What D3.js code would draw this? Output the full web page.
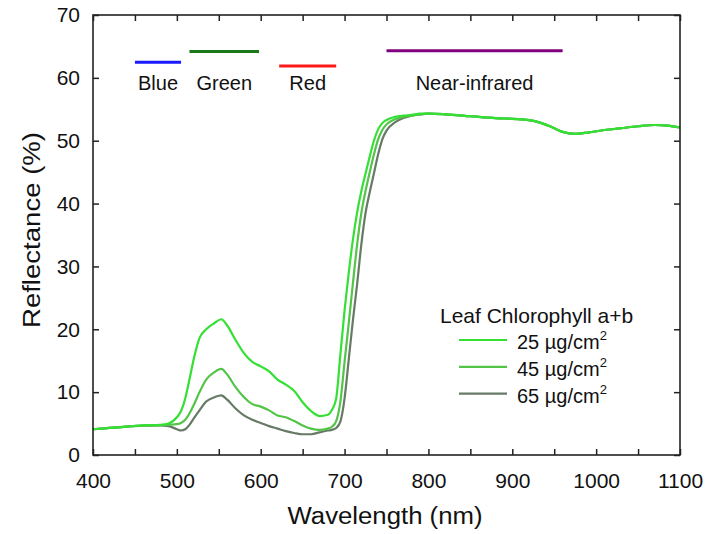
<!DOCTYPE html>
<html>
<head>
<meta charset="utf-8">
<script src="https://cdn.jsdelivr.net/npm/d3@7"></script>
<style>
  body { margin: 0; background: #fff; }
  svg { display: block; font-family: "Liberation Sans", Arial, sans-serif; }
</style>
</head>
<body>
<svg id="chart" width="706" height="534"></svg>
<script>
// Wavelength grid (nm) shared by the three reflectance spectra
const wavelengths = [400, 420, 440, 460, 480, 490, 500, 505, 510, 515, 520, 527, 535, 545, 553, 560,
  570, 580, 590, 600, 610, 620, 630, 640, 650, 660, 670, 680, 685, 690, 695, 700, 705, 710, 715,
  720, 725, 730, 735, 740, 745, 750, 760, 770, 780, 790, 800, 820, 850, 880, 910, 930, 945, 960,
  975, 990, 1010, 1030, 1050, 1070, 1085, 1100];

// Near-infrared plateau (820 nm onward), identical for all chlorophyll levels
const nirPlateau = [54.2, 53.9, 53.6, 53.4, 53.0, 52.3, 51.4, 51.1, 51.3, 51.7, 52.0, 52.3, 52.5, 52.4, 52.1];

// Reflectance (%) 400–800 nm for each leaf chlorophyll content
const refl25 = [4.1, 4.3, 4.5, 4.7, 4.8, 5.0, 6.0, 7.0, 9.0, 12.0, 15.2, 18.6, 20.0, 21.0, 21.6, 20.6,
  18.3, 16.2, 14.8, 14.1, 13.3, 12.0, 11.2, 10.2, 8.4, 7.0, 6.2, 6.4, 7.2, 9.0, 16.0, 23.0, 29.0, 34.3, 38.6,
  42.0, 44.8, 47.5, 50.0, 51.8, 52.8, 53.3, 53.8, 54.0, 54.1, 54.3, 54.3];
const refl45 = [4.1, 4.3, 4.5, 4.7, 4.75, 4.8, 4.9, 5.1, 5.6, 6.6, 7.9, 10.0, 12.0, 13.2, 13.7, 12.8,
  10.8, 9.2, 8.1, 7.7, 7.1, 6.3, 6.0, 5.4, 4.7, 4.2, 4.0, 4.2, 4.5, 5.4, 8.5, 14.8, 21.0, 27.4, 33.5,
  38.5, 42.0, 45.0, 47.8, 50.2, 51.7, 52.6, 53.4, 53.8, 54.0, 54.2, 54.3];
const refl65 = [4.1, 4.3, 4.5, 4.65, 4.7, 4.6, 4.1, 3.9, 4.1, 4.8, 5.8, 7.1, 8.5, 9.2, 9.5, 8.8,
  7.4, 6.3, 5.6, 5.1, 4.6, 4.2, 3.8, 3.5, 3.3, 3.3, 3.6, 3.9, 4.0, 4.3, 5.3, 9.0, 15.2, 21.5, 27.2,
  33.5, 38.5, 41.8, 44.8, 47.8, 50.2, 51.6, 52.9, 53.6, 54.0, 54.2, 54.3];

const seriesNames = ["25", "45", "65"];
const seriesColors = ["#33e033", "#52c447", "#667a66"];

// Spectral bands drawn along the top
const bandNames = ["Blue", "Green", "Red", "Near-infrared"];
const bandStart = [450, 515, 622, 750];
const bandEnd = [505, 598, 690, 960];
const bandLevel = [62.5, 64.2, 61.9, 64.3];
const bandColors = ["#1a1aff", "#1a7a1a", "#ff1a1a", "#800080"];

const xTicks = [400, 500, 600, 700, 800, 900, 1000, 1100];
const xMinorTicks = d3.range(400, 1101, 50);
const yTicks = [0, 10, 20, 30, 40, 50, 60, 70];

const svg = d3.select("#chart");
const plotLeft = 93, plotRight = 680, plotTop = 15, plotBottom = 455;

const x = d3.scaleLinear().domain([400, 1100]).range([plotLeft, plotRight]);
const y = d3.scaleLinear().domain([0, 70]).range([plotBottom, plotTop]);

const seriesValues = [refl25, refl45, refl65].map(v => v.concat(nirPlateau));

const line = d3.line()
  .x(d => x(d[0]))
  .y(d => y(d[1]))
  .curve(d3.curveMonotoneX);

// Spectra (drawn so the low-chlorophyll curve ends up on top)
const g = svg.append("g");
[2, 1, 0].forEach(i => {
  const pts = wavelengths.map((w, k) => [w, seriesValues[i][k]]);
  g.append("path")
    .datum(pts)
    .attr("fill", "none")
    .attr("stroke", seriesColors[i])
    .attr("stroke-width", 2.2)
    .attr("stroke-linejoin", "round")
    .attr("d", line);
});

// Axes with inward ticks on all four sides
const axisColor = "#222";
const xAxis = d3.axisBottom(x).tickValues(xMinorTicks).tickSizeInner(-6).tickSizeOuter(0)
  .tickPadding(18).tickFormat(d => xTicks.includes(d) ? d : "");
const xTop = d3.axisTop(x).tickValues(xMinorTicks).tickSizeInner(-6).tickSizeOuter(0).tickFormat("");
const yAxis = d3.axisLeft(y).tickValues(yTicks).tickSizeInner(-6).tickSizeOuter(0).tickPadding(13);
const yRight = d3.axisRight(y).tickValues(yTicks).tickSizeInner(-6).tickSizeOuter(0).tickFormat("");

function style(sel) {
  sel.select(".domain").remove();
  sel.selectAll("line").attr("stroke", axisColor).attr("stroke-width", 1.5);
  sel.selectAll("text").attr("fill", "#111").attr("font-size", 21)
    .attr("font-family", "'Liberation Sans', Arial, sans-serif");
}
svg.append("g").attr("transform", `translate(0,${plotBottom})`).call(xAxis).call(style);
svg.append("g").attr("transform", `translate(0,${plotTop})`).call(xTop).call(style);
svg.append("g").attr("transform", `translate(${plotLeft},0)`).call(yAxis).call(style);
svg.append("g").attr("transform", `translate(${plotRight},0)`).call(yRight).call(style);

// Frame
svg.append("rect")
  .attr("x", plotLeft).attr("y", plotTop)
  .attr("width", plotRight - plotLeft).attr("height", plotBottom - plotTop)
  .attr("fill", "none").attr("stroke", axisColor).attr("stroke-width", 1.6);

// Axis titles
svg.append("text")
  .attr("x", 385).attr("y", 524)
  .attr("text-anchor", "middle").attr("font-size", 23).attr("fill", "#111")
  .attr("textLength", 195).attr("lengthAdjust", "spacingAndGlyphs")
  .text("Wavelength (nm)");
svg.append("text")
  .attr("transform", `translate(40,230) rotate(-90)`)
  .attr("text-anchor", "middle").attr("font-size", 23).attr("fill", "#111")
  .attr("textLength", 196).attr("lengthAdjust", "spacingAndGlyphs")
  .text("Reflectance (%)");

// Band markers with their names
const bands = svg.append("g");
bandNames.forEach((name, i) => {
  bands.append("line")
    .attr("x1", x(bandStart[i])).attr("x2", x(bandEnd[i]))
    .attr("y1", y(bandLevel[i])).attr("y2", y(bandLevel[i]))
    .attr("stroke", bandColors[i]).attr("stroke-width", 3);
  bands.append("text")
    .attr("x", x((bandStart[i] + bandEnd[i]) / 2)).attr("y", 90)
    .attr("text-anchor", "middle").attr("font-size", 20).attr("fill", "#111")
    .text(name);
});

// Legend
const legend = svg.append("g");
legend.append("text")
  .attr("x", 440).attr("y", 323)
  .attr("font-size", 21).attr("fill", "#111")
  .text("Leaf Chlorophyll a+b");
seriesNames.forEach((name, i) => {
  const ly = 340 + i * 26.8;
  legend.append("line")
    .attr("x1", 459).attr("x2", 507).attr("y1", ly).attr("y2", ly)
    .attr("stroke", seriesColors[i]).attr("stroke-width", 2.2);
  const t = legend.append("text")
    .attr("x", 517).attr("y", ly + 9)
    .attr("font-size", 20).attr("fill", "#111");
  t.append("tspan").text(`${name} \u00b5g/cm`);
  t.append("tspan").attr("dy", -9).attr("font-size", 13).text("2");
});
</script>
</body>
</html>
